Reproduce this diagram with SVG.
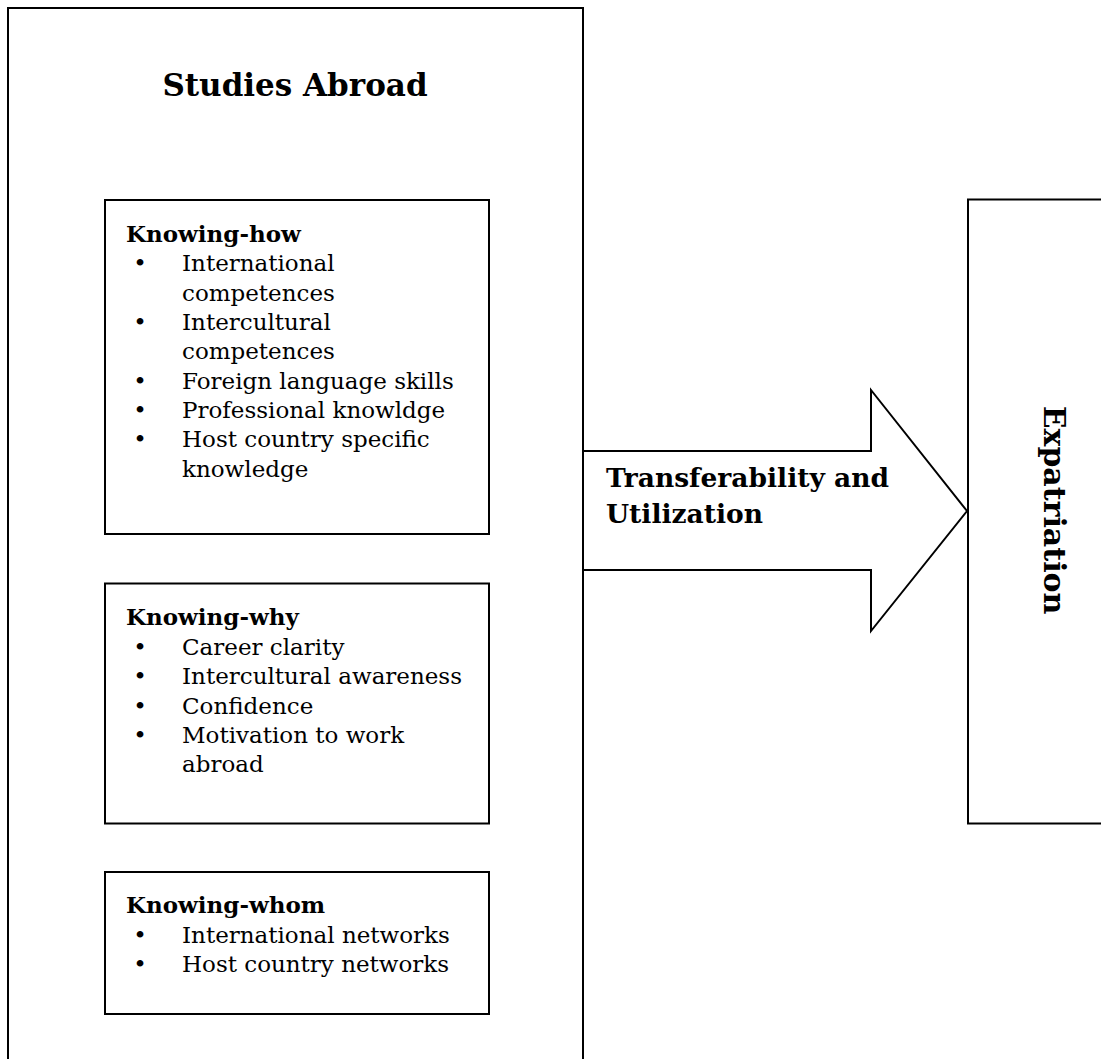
<svg xmlns="http://www.w3.org/2000/svg" width="1101" height="1059" viewBox="0 0 1101 1059">
<style>
.box{fill:#fff;stroke:#000;stroke-width:2}
.t{font-family:"DejaVu Serif","Liberation Serif",serif;fill:#000}
.b{font-weight:bold}
.body{font-size:23px}
.hd{font-size:23px;font-weight:bold}
.bul{font-size:23px;text-anchor:middle}
</style>
<rect width="1101" height="1059" fill="#fff"/>
<g id="studies-abroad">
<rect class="box" x="8" y="8" width="575" height="1070"/>
<text class="t b" x="295" y="96" font-size="31" text-anchor="middle">Studies Abroad</text>
</g>
<g id="knowing-how">
<rect class="box" x="105" y="200" width="384" height="334"/>
<text class="t hd" x="126" y="242">Knowing-how</text>
<g class="t bul">
<text x="140" y="271">•</text><text x="140" y="330">•</text><text x="140" y="389">•</text><text x="140" y="418">•</text><text x="140" y="447">•</text>
</g>
<g class="t body">
<text x="182" y="271">International</text>
<text x="182" y="300.5">competences</text>
<text x="182" y="330">Intercultural</text>
<text x="182" y="359">competences</text>
<text x="182" y="388.5">Foreign language skills</text>
<text x="182" y="418">Professional knowldge</text>
<text x="182" y="447">Host country specific</text>
<text x="182" y="476.5">knowledge</text>
</g>
</g>
<g id="knowing-why">
<rect class="box" x="105" y="583.5" width="384" height="240"/>
<text class="t hd" x="126" y="625">Knowing-why</text>
<g class="t bul">
<text x="140" y="655">•</text><text x="140" y="684">•</text><text x="140" y="713.5">•</text><text x="140" y="743">•</text>
</g>
<g class="t body">
<text x="182" y="655">Career clarity</text>
<text x="182" y="684">Intercultural awareness</text>
<text x="182" y="713.5">Confidence</text>
<text x="182" y="743">Motivation to work</text>
<text x="182" y="772">abroad</text>
</g>
</g>
<g id="knowing-whom">
<rect class="box" x="105" y="872" width="384" height="142"/>
<text class="t hd" x="126" y="913">Knowing-whom</text>
<g class="t bul">
<text x="140" y="942.5">•</text><text x="140" y="971.5">•</text>
</g>
<g class="t body">
<text x="182" y="942.5">International networks</text>
<text x="182" y="971.5">Host country networks</text>
</g>
</g>
<g id="expatriation">
<rect class="box" x="968" y="199.5" width="150" height="624"/>
<text class="t b" font-size="30" text-anchor="middle" transform="translate(1044 510) rotate(90)">Expatriation</text>
</g>
<g id="connectors">
<polygon class="box" points="583,451 871,451 871,390 967,511 871,631 871,570 583,570"/>
<text class="t b" font-size="26.5" x="606" y="487">Transferability and</text>
<text class="t b" font-size="26.5" x="606" y="522.5">Utilization</text>
</g>
</svg>
